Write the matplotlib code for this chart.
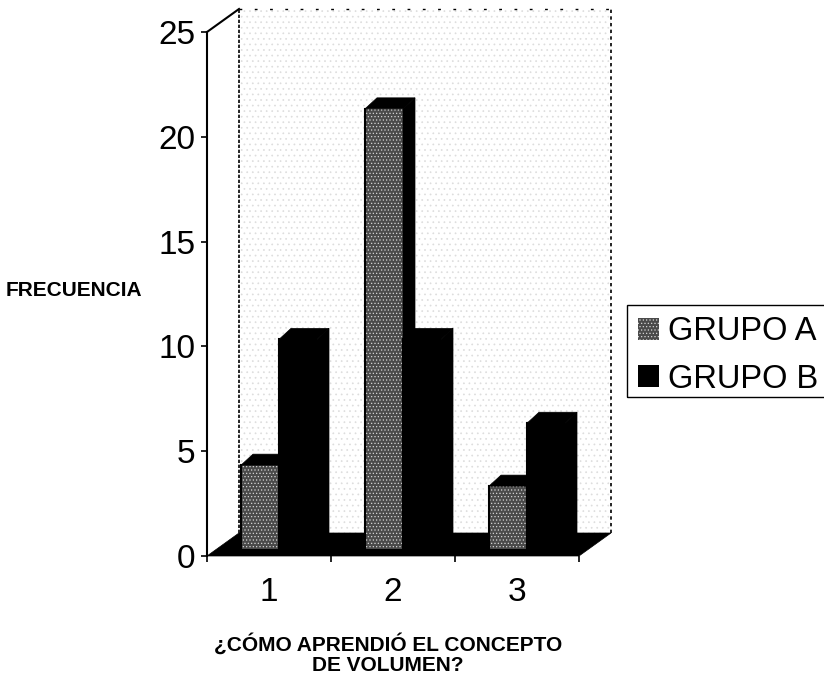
import matplotlib
matplotlib.use("Agg")
import matplotlib.pyplot as plt
from matplotlib.patches import Polygon, Rectangle

plt.rcParams['font.family'] = ['Liberation Sans', 'DejaVu Sans']
plt.rcParams['hatch.linewidth'] = 0.5

# datos
categorias = [1, 2, 3]
etiquetas = ['1', '2', '3']
grupo_a = [4, 21, 3]
grupo_b = [10, 10, 6]
ticks_y = [0, 5, 10, 15, 20, 25]

W, H = 824, 674
fig = plt.figure(figsize=(W / 100, H / 100), dpi=100)

# ejes: x 0.5-3.5 = px 207-579, y 0-25 = px 556-32
ax = fig.add_axes([207 / W, 1 - 556 / H, 372 / W, 524 / H])
ax.set_xlim(0.5, 3.5)
ax.set_ylim(0, 25)
ax.patch.set_alpha(0)

px_x = 3.0 / 372
px_y = 25.0 / 524

# ===== efecto 3D: pared y suelo =====
wx, wy = 32 * px_x, 23 * px_y
ax.add_patch(Polygon([(0.5 + wx, wy), (3.5 + wx, wy), (3.5 + wx, 25 + wy), (0.5 + wx, 25 + wy)],
                     facecolor='white', edgecolor='#dddddd', hatch='...', lw=0, clip_on=False, zorder=1))
ax.plot([0.5 + wx, 0.5 + wx], [wy, 25 + wy], color='black', lw=1.2, ls=(0, (2, 1)), clip_on=False, zorder=2)
ax.plot([3.5 + wx, 3.5 + wx], [wy, 25 + wy], color='black', lw=1.2, ls=(0, (2, 2)), clip_on=False, zorder=2)
ax.plot([0.5 + wx, 3.5 + wx], [25 + wy, 25 + wy], color='black', lw=1.0, ls=(0, (2, 9)), clip_on=False, zorder=2)
ax.plot([0.5, 0.5 + wx], [25, 25 + wy], color='black', lw=1.5, clip_on=False, zorder=2)
ax.add_patch(Polygon([(0.5, 0), (3.5, 0), (3.5 + wx, wy), (0.5 + wx, wy)],
                     facecolor='black', edgecolor='black', lw=0.5, clip_on=False, zorder=2))

# ===== barras =====
ancho = 38 * px_x
base = 7 * px_y
dx, dy = 12 * px_x, 11 * px_y
corr = 10 * px_x   # centro de las barras respecto a la categoria


def barras(xs, valores, color, borde, hatch, etiqueta, z):
    b = ax.bar(xs, valores, ancho, bottom=base, color=color, edgecolor=borde, hatch=hatch,
               linewidth=0, label=etiqueta, zorder=z)
    for x, v in zip(xs, valores):
        izq, der = x - ancho / 2, x + ancho / 2
        top = v + base
        ax.add_patch(Polygon([(der, base), (der + dx, base + dy), (der + dx, top + dy), (der, top)],
                             facecolor='black', edgecolor='black', lw=0.5, zorder=z, clip_on=False))
        ax.add_patch(Polygon([(izq, top), (izq + dx, top + dy), (der + dx, top + dy), (der, top)],
                             facecolor='black', edgecolor='black', lw=0.5, zorder=z, clip_on=False))
        ax.plot([izq, izq], [base, top], color='black', lw=1.5, zorder=z)
    return b


xs_a = [c - ancho / 2 + corr for c in categorias]
xs_b = [c + ancho / 2 + corr for c in categorias]
barras(xs_a, grupo_a, '#4a4a4a', '#d5d5d5', '.....', 'GRUPO A', 3)
barras(xs_b, grupo_b, 'black', 'black', None, 'GRUPO B', 4)

# ===== ejes =====
for s in ['top', 'right', 'bottom']:
    ax.spines[s].set_visible(False)
ax.spines['left'].set_linewidth(1.5)
ax.set_yticks(ticks_y)
ax.tick_params(axis='y', labelsize=24, length=4.5, width=1.2, pad=4)
ax.set_xticks([0.5, 1.5, 2.5, 3.5])
ax.set_xticklabels([])
ax.tick_params(axis='x', which='major', length=4, width=1.2)
ax.set_xticks(categorias, minor=True)
ax.set_xticklabels(etiquetas, minor=True)
ax.tick_params(axis='x', which='minor', length=0, labelsize=24, pad=15)

fig.text(74 / W, 1 - 290 / H, 'FRECUENCIA', fontsize=15, fontweight='bold', ha='center', va='center')
fig.text(388 / W, 1 - 654 / H, '¿CÓMO APRENDIÓ EL CONCEPTO\nDE VOLUMEN?', fontsize=15, fontweight='bold',
         ha='center', va='center', linespacing=1.05)

# ===== leyenda: el marco se sale por la derecha de la imagen =====
fig.add_artist(Rectangle((627 / W, 1 - 397 / H), 210 / W, 92 / H, transform=fig.transFigure,
                         facecolor='none', edgecolor='black', lw=1.0))
handles, labels = ax.get_legend_handles_labels()
leg = fig.legend(handles, labels, loc='upper left', bbox_to_anchor=(627 / W, 1 - 305 / H),
                 bbox_transform=fig.transFigure, fontsize=23.5, frameon=False,
                 handlelength=0.64, handleheight=0.64, handletextpad=0.28,
                 borderpad=0.35, labelspacing=0.5, borderaxespad=0)

fig.savefig('out.png', dpi=100)
